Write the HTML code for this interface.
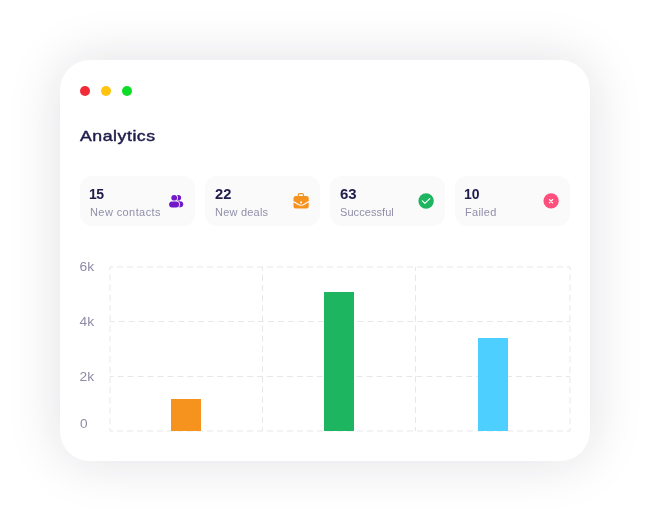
<!DOCTYPE html>
<html lang="en">
<head>
<meta charset="utf-8">
<title>Analytics</title>
<style>
  html,body{margin:0;padding:0;}
  body{width:650px;height:521px;background:#fff;position:relative;overflow:hidden;
       font-family:"Liberation Sans",sans-serif;color:#1f1b4a;}
  .card{position:absolute;left:60px;top:60px;width:530px;height:400.9px;background:#fff;
        border-radius:30px;box-shadow:0 0 54px rgba(20,20,50,0.135);}
  .dot{position:absolute;top:86px;width:10px;height:10px;border-radius:50%;}
  .title{position:absolute;left:80px;top:126.4px;font-size:15px;font-weight:400;line-height:20px;
         letter-spacing:0.45px;white-space:nowrap;-webkit-text-stroke:0.45px #1f1b4a;transform-origin:0 0;transform:scaleX(1.18);}
  .stat{position:absolute;top:176px;width:115px;height:50px;background:#fafafb;border-radius:12px;}
  .stat .num{position:absolute;left:9px;top:10px;font-size:14px;font-weight:700;line-height:16px;white-space:nowrap;}
  .stat .lbl{position:absolute;left:9.5px;top:30.2px;font-size:10px;line-height:14px;color:#918fa8;white-space:nowrap;letter-spacing:0.45px;transform-origin:0 0;transform:scaleX(1.1);}
  .icons{position:absolute;left:0;top:0;}
  .chart{position:absolute;left:0;top:0;}
  .chart text{font-family:"Liberation Sans",sans-serif;font-size:12px;fill:#8e8ba6;}
</style>
</head>
<body>
<div class="card"></div>
<div class="dot" style="left:80px;background:#f22b38"></div>
<div class="dot" style="left:101px;background:#ffc40b"></div>
<div class="dot" style="left:122px;background:#0ddc28"></div>
<div class="title">Analytics</div>

<div class="stat" style="left:80px"><div class="num" style="letter-spacing:-0.6px">15</div><div class="lbl" style="top:30.2px;letter-spacing:0.37px">New contacts</div></div>
<div class="stat" style="left:205px"><div class="num" style="left:10px;transform-origin:0 0;transform:scaleX(1.05)">22</div><div class="lbl" style="top:30.2px;letter-spacing:0.2px">New deals</div></div>
<div class="stat" style="left:330px"><div class="num" style="left:10px;transform-origin:0 0;transform:scaleX(1.07)">63</div><div class="lbl" style="top:30.2px;letter-spacing:0.06px">Successful</div></div>
<div class="stat" style="left:455px"><div class="num">10</div><div class="lbl" style="top:30.2px;letter-spacing:0.25px">Failed</div></div>

<svg class="icons" width="650" height="521" viewBox="0 0 650 521">
  <!-- contacts -->
  <g fill="#7119c9">
    <circle cx="178.3" cy="197.8" r="2.8"/>
    <rect x="175" y="201.2" width="8.2" height="6" rx="3"/>
    <g stroke="#fafafb" stroke-width="1.6" paint-order="stroke">
      <circle cx="174.2" cy="197.8" r="2.9"/>
      <rect x="169.1" y="201.5" width="10" height="5.9" rx="2.95"/>
    </g>
  </g>
  <!-- briefcase -->
  <g transform="translate(289 189)">
    <rect x="9.3" y="4.6" width="5.2" height="4" rx="1.4" fill="none" stroke="#f6931f" stroke-width="1.2"/>
    <rect x="4.5" y="6.9" width="15.2" height="12.7" rx="2.3" fill="#f6931f"/>
    <path d="M4.2 12.9 C7.5 13.4 9 16.3 12.1 16.3 S16.7 13.4 20 12.9" fill="none" stroke="#fafafb" stroke-width="1.1"/>
    <rect x="11.1" y="12.4" width="1.9" height="1.8" rx="0.3" fill="#fafafb"/>
  </g>
  <!-- check -->
  <circle cx="426.1" cy="201" r="7.7" fill="#1db560"/>
  <path d="M422.3 200.9 L424.9 203.4 L429.8 198.6" fill="none" stroke="#fff" stroke-width="1.2" stroke-linecap="round" stroke-linejoin="round"/>
  <!-- cross -->
  <circle cx="551.1" cy="200.9" r="7.65" fill="#ff4f7d"/>
  <path d="M549.4 199.5 L552.7 202.8 M552.7 199.5 L549.4 202.8" fill="none" stroke="#fff" stroke-width="1.1" stroke-linecap="round"/>
</svg>

<svg class="chart" width="650" height="521" viewBox="0 0 650 521">
  <g stroke="#e7e7e9" stroke-width="1" fill="none">
    <path d="M110 267H570" stroke-dasharray="6 4" stroke-dashoffset="3"/>
    <path d="M110 321.5H570" stroke-dasharray="5.974 3.982" stroke-dashoffset="1.35"/>
    <path d="M110 376.5H570" stroke-dasharray="5.974 3.982" stroke-dashoffset="2.29"/>
    <path d="M110 431H570" stroke-dasharray="6 4" stroke-dashoffset="3"/>
    <path d="M110 267V431M570 267V431" stroke-dasharray="6.16 4.11" stroke-dashoffset="3.1"/>
    <path d="M262.5 267V431M415.5 267V431" stroke-dasharray="6.09 4.06" stroke-dashoffset="2.3"/>
  </g>
  <rect x="171" y="399" width="30" height="32" fill="#f6931f"/>
  <rect x="324" y="292" width="30" height="139" fill="#1db560"/>
  <rect x="478" y="338" width="30" height="93" fill="#4dcfff"/>
  <text x="79.6" y="271" textLength="14.6" lengthAdjust="spacingAndGlyphs">6k</text>
  <text x="79.6" y="326" textLength="14.6" lengthAdjust="spacingAndGlyphs">4k</text>
  <text x="79.6" y="381" textLength="14.6" lengthAdjust="spacingAndGlyphs">2k</text>
  <text x="80" y="428" textLength="7.6" lengthAdjust="spacingAndGlyphs">0</text>
</svg>
</body>
</html>
